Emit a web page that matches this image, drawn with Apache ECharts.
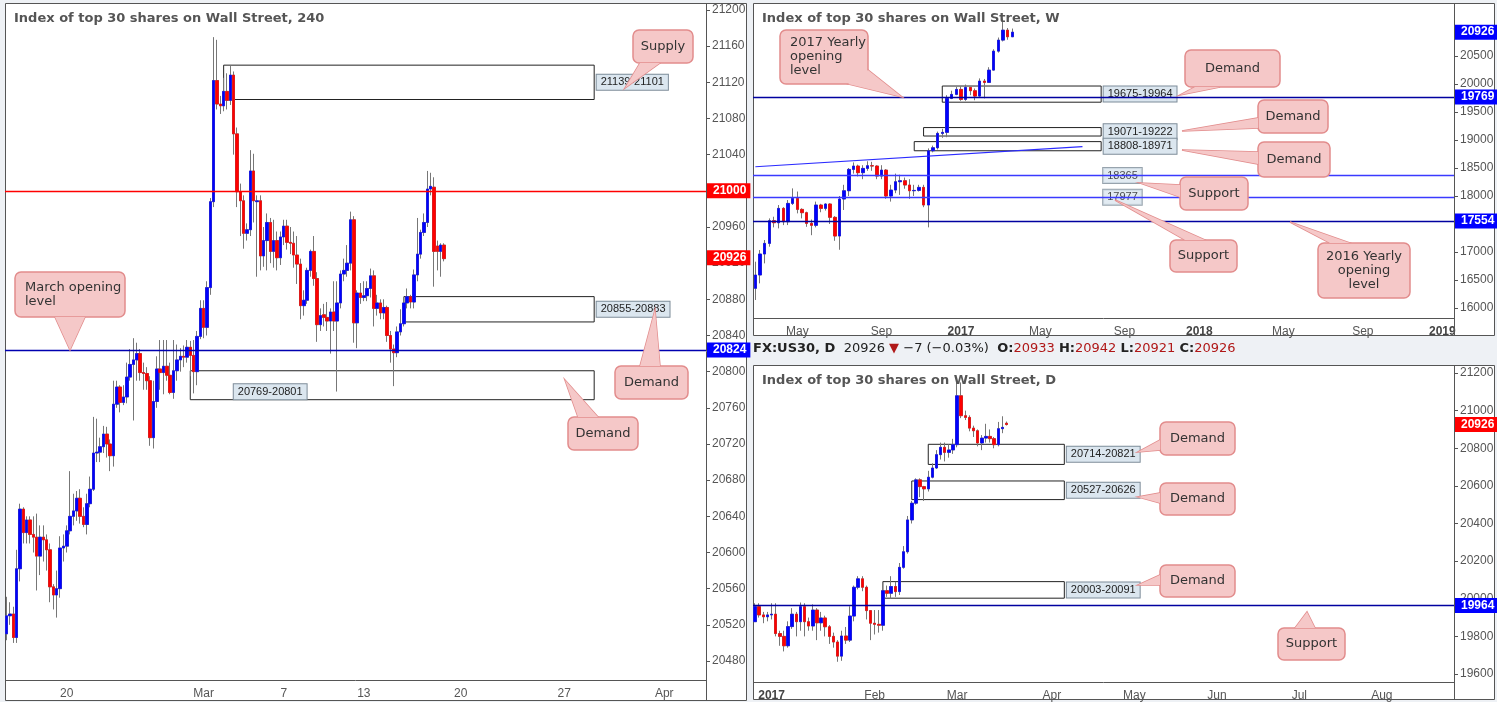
<!DOCTYPE html>
<html><head><meta charset="utf-8">
<script src="https://cdn.jsdelivr.net/npm/echarts@6/dist/echarts.min.js"></script>
<style>html,body{margin:0;padding:0;background:#eef1f5;}#c{width:1497px;height:702px;}</style>
</head><body><div id="c"></div>
<script>
// ---------- DATA ----------
// 4h candles [open, close, low, high]
const h4Candles = [
[20510,20530,20503,20551],[20530,20532,20520,20545],[20532,20506,20500,20540],[20506,20582,20500,20603],
[20582,20648,20568,20654],[20648,20622,20610,20650],[20622,20636,20610,20640],[20636,20620,20610,20640],
[20620,20617,20600,20640],[20617,20596,20558,20643],[20596,20617,20575,20630],[20617,20614,20590,20630],
[20614,20603,20580,20620],[20603,20562,20545,20610],[20562,20553,20537,20565],[20553,20560,20528,20580],
[20560,20605,20550,20618],[20605,20607,20590,20620],[20607,20624,20600,20630],[20624,20640,20620,20690],
[20640,20646,20630,20665],[20646,20660,20635,20668],[20660,20640,20632,20670],[20640,20631,20628,20650],
[20631,20654,20620,20665],[20654,20670,20650,20684],[20670,20710,20668,20750],[20710,20711,20700,20748],
[20711,20717,20700,20727],[20717,20731,20710,20740],[20731,20720,20705,20739],[20720,20707,20690,20725],
[20707,20764,20695,20790],[20764,20783,20760,20790],[20783,20766,20755,20785],[20766,20772,20763,20785],
[20772,20794,20765,20810],[20794,20808,20790,20825],[20808,20813,20746,20837],[20813,20820,20790,20832],
[20820,20799,20790,20825],[20799,20798,20780,20810],[20798,20790,20780,20805],[20790,20727,20718,20795],
[20727,20767,20715,20790],[20767,20803,20760,20817],[20803,20799,20780,20835],[20799,20806,20775,20835],
[20806,20796,20790,20835],[20796,20777,20775,20810],[20777,20801,20770,20835],[20801,20813,20790,20830],
[20813,20817,20800,20826],[20817,20816,20805,20829],[20816,20827,20810,20835],[20827,20818,20795,20834],
[20818,20800,20776,20835],[20800,20839,20785,20845],[20839,20870,20836,20879],[20870,20849,20837,20879],
[20849,20893,20840,20900],[20893,20988,20885,20992],[20988,21122,20982,21170],[21122,21096,21090,21167],
[21096,21094,21085,21105],[21094,21110,21088,21125],[21110,21100,21090,21130],[21100,21128,21095,21138],
[21128,21063,21040,21132],[21063,20999,20982,21070],[20999,20989,20950,21008],[20989,20953,20936,20995],
[20953,20957,20945,20964],[20957,21022,20950,21045],[21022,20989,20965,21041],[20988,20989,20905,20995],
[20989,20928,20912,20995],[20928,20945,20916,20960],[20945,20965,20912,20975],[20965,20933,20920,20970],
[20933,20945,20915,20968],[20945,20926,20912,20955],[20926,20949,20918,20955],[20949,20961,20940,20968],
[20961,20943,20935,20968],[20943,20942,20930,20960],[20942,20929,20915,20955],[20929,20919,20897,20950],
[20919,20873,20858,20925],[20873,20879,20862,20890],[20879,20912,20875,20915],[20912,20933,20905,20935],
[20933,20903,20895,20950],[20903,20852,20833,20910],[20852,20862,20845,20870],[20863,20860,20850,20875],
[20860,20856,20845,20877],[20856,20866,20820,20870],[20866,20856,20845,20900],[20856,20876,20778,20900],
[20876,20908,20870,20912],[20908,20912,20900,20925],[20912,20920,20905,20940],[20920,20968,20912,20977],
[20968,20854,20832,20972],[20854,20887,20826,20890],[20887,20882,20875,20898],[20882,20884,20878,20900],
[20884,20892,20878,20900],[20892,20906,20882,20914],[20906,20870,20850,20912],[20870,20876,20862,20885],
[20876,20865,20858,20880],[20865,20871,20858,20880],[20871,20840,20833,20873],[20840,20825,20810,20845],
[20825,20821,20784,20830],[20821,20844,20816,20850],[20844,20853,20840,20869],[20853,20876,20850,20880],
[20876,20883,20870,20892],[20883,20877,20870,20885],[20877,20907,20870,20913],[20907,20930,20900,20970],
[20930,20954,20925,20957],[20954,20965,20950,20975],[20965,21002,20960,21022],[21002,21005,20995,21020],
[21004,20933,20894,21015],[20939,20933,20912,20945],[20933,20940,20905,20942],[20940,20925,20922,20942]
];
const weeklyCandles = [
[16351,16589,16143,16827],[16589,16964,16440,17035],[16964,17154,16797,17214],[17154,17559,17095,17600],
[17559,17523,17440,17630],[17523,17779,17422,17839],[17779,17541,17480,17800],[17541,17868,17481,17928],
[17868,17957,17840,18136],[17957,17761,17690,18080],[17761,17702,17600,17780],[17702,17511,17450,17720],
[17511,17476,17300,17580],[17476,17839,17440,17900],[17839,17779,17710,17860],[17779,17857,17740,17870],
[17857,17619,17500,17870],[17619,17285,17200,17640],[17285,17946,17040,18000],[17946,18094,17750,18200],
[18094,18475,18000,18500],[18475,18535,18400,18600],[18535,18416,18350,18560],[18416,18493,18300,18550],
[18493,18541,18450,18620],[18541,18535,18450,18610],[18535,18356,18300,18550],[18356,18463,18300,18550],
[18463,17999,17950,18480],[17999,18106,17900,18200],[18106,18255,18050,18400],[18255,18273,18020,18380],
[18273,18196,18130,18330],[18196,18094,17950,18300],[18094,18100,18000,18200],[18100,18154,18080,18200],
[18154,17839,17800,18200],[17839,18808,17440,18850],[18808,18862,18780,18900],[18862,19118,18830,19150],
[19118,19136,19040,19200],[19136,19743,19050,19800],[19743,19814,19730,19880],[19814,19903,19800,19950],
[19903,19725,19700,19960],[19725,19939,19700,19990],[19939,19880,19800,19950],[19880,19784,19710,19920],
[19784,20052,19770,20100],[20052,20028,19743,20090],[20028,20248,20020,20300],[20248,20587,20240,20620],
[20587,20784,20560,20830],[20784,20962,20760,21169],[20962,20843,20790,21000],[20843,20926,20840,20990]
];
const dailyCandles = [
[19878,19958,19878,19976],[19958,19914,19900,19976],[19914,19904,19870,19930],[19904,19914,19880,19930],
[19914,19918,19890,19976],[19918,19815,19800,19976],[19815,19800,19750,19830],[19800,19750,19720,19830],
[19750,19852,19740,19880],[19852,19918,19840,19950],[19918,19878,19800,19930],[19878,19958,19830,19980],
[19958,19878,19800,19976],[19878,19855,19830,19900],[19855,19940,19830,19970],[19940,19872,19780,19950],
[19872,19898,19830,19930],[19898,19851,19800,19910],[19851,19800,19760,19860],[19800,19770,19740,19820],
[19770,19695,19665,19780],[19695,19802,19670,19830],[19802,19780,19760,19850],[19780,19908,19770,19960],
[19908,20061,19880,20070],[20061,20106,20050,20120],[20106,20061,20040,20120],[20061,19937,19890,20070],
[19937,19870,19780,19940],[19870,19864,19810,19940],[19864,19859,19820,19940],[19859,20043,19830,20090],
[20043,20029,20010,20070],[20029,20065,20000,20120],[20065,20038,20010,20090],[20038,20167,20020,20190],
[20167,20250,20160,20280],[20250,20419,20240,20440],[20419,20508,20400,20520],[20508,20632,20500,20640],
[20632,20596,20540,20640],[20596,20584,20520,20600],[20584,20646,20570,20680],[20646,20695,20640,20720],
[20695,20766,20690,20790],[20766,20805,20740,20830],[20805,20778,20730,20830],[20778,20791,20750,20820],
[20791,20819,20770,20850],[20819,21079,20805,21150],[21079,20973,20960,21150],[20973,20964,20950,21000],
[20964,20907,20890,20975],[20907,20893,20860,20920],[20893,20828,20810,20900],[20828,20854,20790,20870],
[20854,20863,20830,20930],[20863,20851,20830,20900],[20851,20819,20800,20860],[20819,20904,20810,20940],
[20904,20911,20880,20970],[20933,20926,20921,20942]
];
// x tick labels: [category index, text]
const h4Ticks = [[18,'20'],[59,'Mar'],[83,'7'],[107,'13'],[136,'20'],[167,'27'],[197,'Apr']];
const weeklyTicks = [[9,'May'],[27,'Sep'],[44,'2017'],[61,'May'],[79,'Sep'],[95,'2018'],[113,'May'],[130,'Sep'],[147,'2019']];
const dailyTicks = [[4,'2017'],[29,'Feb'],[49,'Mar'],[72,'Apr'],[92,'May'],[112,'Jun'],[132,'Jul'],[152,'Aug']];
// y ranges / intervals
const h4Y = [20480, 21200, 40];
const weeklyY = [16000, 21000, 500];
const dailyY = [19600, 21200, 200];
// zones: [low, high, startIndex, label]
const h4Zones = [[21101,21139,65,'21139-21101'],[20855,20883,119,'20855-20883'],[20769,20801,55,'20769-20801']];
const weeklyZones = [[19675,19964,40,'19675-19964'],[19071,19222,36,'19071-19222'],[18808,18971,34,'18808-18971']];
const dailyZones = [[20714,20821,42,'20714-20821'],[20527,20626,38,'20527-20626'],[20003,20091,31,'20003-20091']];
// horizontal levels: [value, color, label bg or null, showLine]
const h4Levels = [[21000,'#ff0000','#ff0000',true],[20824,'#0000b0','#0000ff',true],[20926,'#ff0000','#ff0000',false]];
const weeklyLevels = [[19769,'#0000a0','#0000ff',true],[18365,'#3a3aff',null,true],[17977,'#3a3aff',null,true],[17554,'#0000a0','#0000ff',true],[20926,'#0000ff','#0000ff',false]];
const dailyLevels = [[19964,'#0000a0','#0000ff',true],[20926,'#ff0000','#ff0000',false]];
const weeklySupportLabels = [[17977,'17977'],[18365,'18365']];
const weeklyTrend = [[0,18522],[70,18880]];

// ---------- BUILD ----------
const FONT = 'Liberation Sans';
const cats = (n, ticks) => { const a = new Array(n).fill(''); ticks.forEach(t => a[t[0]] = t[1]); return a; };
const grids = [
  {left:5, top:10, width:701, height:651, n:210, offset:19},
  {left:753, top:28, width:701, height:280, n:150, offset:10},
  {left:753, top:373, width:701, height:301, n:170, offset:8}
];
const tickSets = [h4Ticks, weeklyTicks, dailyTicks];
const ys = [h4Y, weeklyY, dailyY];
const candleSets = [h4Candles, weeklyCandles, dailyCandles];
const zoneSets = [h4Zones, weeklyZones, dailyZones];
const levelSets = [h4Levels, weeklyLevels, dailyLevels];
const zoneEnd = [176, 74, 75];

const boxLabel = {show:true, color:'#222', fontSize:11, fontFamily:FONT, backgroundColor:'#dbe6ef', borderColor:'#7d8c99', borderWidth:1, padding:[2,4]};

const series = [];
candleSets.forEach((data, g) => {
  series.push({type:'candlestick', xAxisIndex:g, yAxisIndex:g, barWidth:3, clip:false, silent:true,
    itemStyle:{color:'#777', color0:'#777', borderColor:'#777', borderColor0:'#777', borderWidth:1},
    data:data});
  const zones = zoneSets[g].map((z, k) => {
    const lbl = Object.assign({}, boxLabel, {formatter:z[3], position: (g===0 && k===2) ? 'insideBottomLeft' : 'right', distance:2});
    if (g===0 && k===2) { lbl.offset = [42, 1]; }
    return [{coord:[z[2], z[1]], label:lbl}, {coord:[zoneEnd[g], z[0]]}];
  });
  const lines = levelSets[g].map(l => ({yAxis:l[0],
    lineStyle:{color: l[3] ? l[1] : 'rgba(0,0,0,0)', width:1.3, type:'solid'},
    label: l[2] ? {show:true, position:'end', distance:1, formatter:String(l[0]), color:'#fff', fontWeight:'bold', fontSize:12, fontFamily:FONT, backgroundColor:l[2], padding:[2,4,1,6]} : {show:false}}));
  if (g===1) {
    lines.push([{coord:weeklyTrend[0], lineStyle:{color:'#2b2bff', width:1.2, type:'solid'}}, {coord:weeklyTrend[1]}]);
  }
  series.push({type:'candlestick', xAxisIndex:g, yAxisIndex:g, barWidth:3, clip:false, silent:true,
    itemStyle:{color:'#0000ff', color0:'#ff0000', borderColor:'#0000ff', borderColor0:'#ff0000', borderWidth:0.5},
    data:data.map(d => [d[0], d[1], Math.min(d[0],d[1]), Math.max(d[0],d[1])]),
    markArea:{silent:true, itemStyle:{color:'rgba(0,0,0,0)', borderColor:'#222', borderWidth:1}, data:zones},
    markLine:{silent:true, symbol:'none', animation:false, lineStyle:{type:'solid'}, data:lines}
  });
});
series.push({type:'scatter', xAxisIndex:1, yAxisIndex:1, symbolSize:0, silent:true,
  data: weeklySupportLabels.map(s => ({value:[74, s[0]], label:Object.assign({}, boxLabel, {formatter:s[1], position:'right', distance:2})}))});

function callout(x, y, w, h, base, tip, text, align) {
  const pts = [base[0], base[1], tip];
  const sty = {fill:'#f5c8c8', stroke:'#e28c8c', lineWidth:1.5};
  return [
    {type:'polygon', z:100, shape:{points:pts}, style:sty},
    {type:'rect', z:101, shape:{x:x, y:y, width:w, height:h, r:6}, style:sty},
    {type:'polygon', z:102, shape:{points:pts}, style:{fill:'#f5c8c8'}},
    {type:'text', z:103, x: align==='left' ? x+10 : x+w/2, y: y+h/2,
      style:{text:text, fill:'#333', font:'13px "DejaVu Sans"', align: align==='left'?'left':'center', verticalAlign:'middle', lineHeight:14}}
  ];
}
const panelStroke = {stroke:'#555', lineWidth:1};
const line = (x1,y1,x2,y2) => ({type:'line', z:1, shape:{x1,y1,x2,y2}, style:panelStroke});
let graphics = [
  {type:'rect', z:0, shape:{x:5.5, y:3.5, width:741, height:697}, style:{fill:'#fff', stroke:'#555'}},
  {type:'rect', z:0, shape:{x:753.5, y:3.5, width:741, height:332}, style:{fill:'#fff', stroke:'#555'}},
  {type:'rect', z:0, shape:{x:753.5, y:365.5, width:741, height:334}, style:{fill:'#fff', stroke:'#555'}},
  line(706.5,3,706.5,700), line(5,680.5,706,680.5),
  line(1454.5,3,1454.5,336), line(753,318.5,1454,318.5),
  line(1454.5,365,1454.5,700), line(753,682.5,1454,682.5),
  {type:'text', z:5, x:14, y:12, style:{text:'Index of top 30 shares on Wall Street, 240', fill:'#555', font:'bold 13px "DejaVu Sans"'}},
  {type:'text', z:5, x:762, y:12, style:{text:'Index of top 30 shares on Wall Street, W', fill:'#555', font:'bold 13px "DejaVu Sans"'}},
  {type:'text', z:5, x:762, y:374, style:{text:'Index of top 30 shares on Wall Street, D', fill:'#555', font:'bold 13px "DejaVu Sans"'}},
  {type:'text', z:5, x:753, y:342, style:{
    text:'{b|FX:US30, D}  {n|20926} {r|▼} {n|−7 (−0.03%)}  {b|O:}{r|20933} {b|H:}{r|20942} {b|L:}{r|20921} {b|C:}{r|20926}',
    font:'13px "DejaVu Sans"', rich:{b:{fill:'#222', font:'bold 13px "DejaVu Sans"'}, n:{fill:'#222', font:'13px "DejaVu Sans"'}, r:{fill:'#b01818', font:'13px "DejaVu Sans"'}}}}
];
graphics = graphics.concat(
  callout(633,30,60,33,[[640,63],[660,63]],[625,88],'Supply'),
  callout(15,272,110,45,[[55,317],[85,317]],[70,350],'March opening\nlevel','left'),
  callout(615,366,73,33,[[640,366],[660,366]],[655,310],'Demand'),
  callout(568,417,70,33,[[578,417],[598,417]],[565,380],'Demand'),
  callout(780,30,88,54,[[848,84],[868,70]],[902,97],'2017 Yearly\nopening\nlevel','left'),
  callout(1185,50,95,37,[[1195,87],[1220,87]],[1180,95],'Demand'),
  callout(1258,100,70,33,[[1258,118],[1258,128]],[1182,131],'Demand'),
  callout(1258,142,72,35,[[1258,152],[1258,164]],[1182,150],'Demand'),
  callout(1180,177,68,33,[[1180,185],[1180,197]],[1140,183],'Support'),
  callout(1170,240,67,32,[[1185,240],[1205,240]],[1115,200],'Support'),
  callout(1318,243,92,55,[[1330,243],[1350,243]],[1290,222],'2016 Yearly\nopening\nlevel'),
  callout(1160,422,75,33,[[1160,440],[1160,450]],[1138,452],'Demand'),
  callout(1160,483,75,32,[[1160,493],[1160,503]],[1138,497],'Demand'),
  callout(1160,565,75,32,[[1160,575],[1160,585]],[1138,585],'Demand'),
  callout(1278,628,67,32,[[1295,628],[1315,628]],[1307,612],'Support')
);

const option = {
  animation:false,
  grid: grids.map(g => ({left:g.left, top:g.top, width:g.width, height:g.height, containLabel:false})),
  xAxis: grids.map((g, i) => ({type:'category', gridIndex:i, data:cats(g.n, tickSets[i]), boundaryGap:true, offset:g.offset,
    axisLine:{show:false}, axisTick:{show:false}, splitLine:{show:false},
    axisLabel:{interval:0, color:'#555', fontSize:12, fontFamily:FONT, margin:8,
      formatter: v => /^\d{4}$/.test(v) ? '{y|' + v + '}' : v,
      rich:{y:{fontWeight:'bold', color:'#444', fontSize:12, fontFamily:FONT}}}})),
  yAxis: grids.map((g, i) => ({type:'value', gridIndex:i, position:'right', min:ys[i][0], max:ys[i][1], interval:ys[i][2], scale:true,
    axisLine:{show:false}, splitLine:{show:false}, axisTick:{show:true, length:4, lineStyle:{color:'#555'}},
    axisLabel:{color:'#555', fontSize:12, fontFamily:FONT, margin:6, formatter: v => (i === 1 && v === ys[1][1]) ? '' : String(v)}})),
  series: series,
  graphic: graphics
};
const chart = echarts.init(document.getElementById('c'));
chart.setOption(option);
</script></body></html>
